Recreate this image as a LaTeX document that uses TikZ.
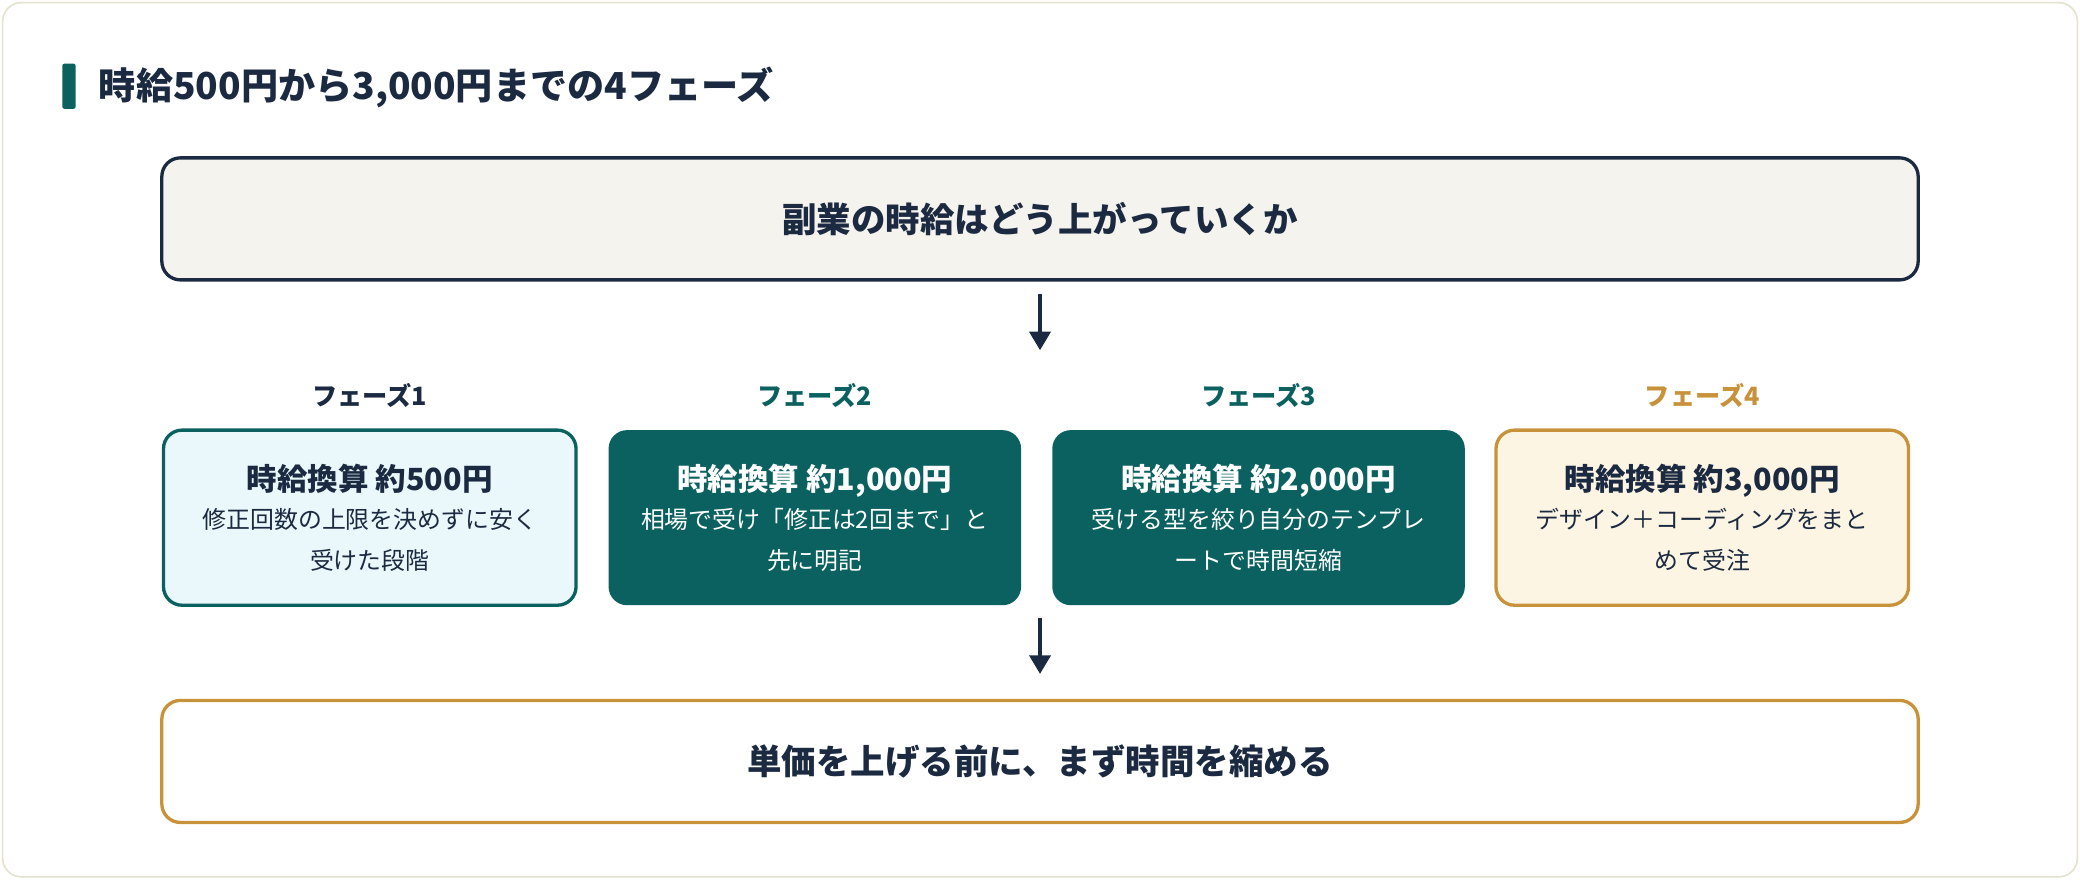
\documentclass[tikz,border=0pt]{standalone}
\usepackage{fontspec}
\setmainfont{Noto Sans CJK JP}
\usetikzlibrary{positioning,arrows.meta}
\definecolor{navy}{HTML}{1B2A41}
\definecolor{teal}{HTML}{0B6160}
\definecolor{gold}{HTML}{C8923A}
\definecolor{frame}{HTML}{E4E1CF}
\definecolor{paper}{HTML}{F5F3EE}
\definecolor{ice}{HTML}{EAF8FC}
\definecolor{cream}{HTML}{FDF5E4}
\tikzset{
  box/.style={draw, rounded corners=14, line width=2.5, minimum width=1324, minimum height=92, font=\fontsize{26}{30}\selectfont\bfseries, text=navy},
  phase/.style={rounded corners=14, line width=2.5, minimum width=311, minimum height=132, align=center, anchor=north west, font=\fontsize{18}{31}\selectfont},
  tag/.style={font=\fontsize{19}{22}\selectfont\bfseries, anchor=south},
  down/.style={-{Triangle[length=14,width=16]}, line width=2.5, draw=navy},
}
\newcommand{\phasetext}[2]{{\fontsize{23}{30}\selectfont\bfseries #1}\\[-2pt]#2}

\begin{document}
\begin{tikzpicture}[x=1pt,y=-1pt]
\useasboundingbox (0,0) rectangle (1568,663);
% frame
\draw [frame, fill=white, rounded corners=14, line width=1.2] (2,2) rectangle (1566,661);
% heading
\fill [teal, rounded corners=1.5] (47,48) rectangle (57,82);
\node (heading) [anchor=west, text=navy, font=\fontsize{28}{32}\selectfont\bfseries] at (71,66) {時給500円から3,000円までの4フェーズ};

% question
\node (question) [box, draw=navy, fill=paper] at (784,165) {副業の時給はどう上がっていくか};
\coordinate (qa) at (784,222);
\coordinate (qb) at (784,264);
\draw [down] (qa) -- (qb);

% phases
\node (p1) [phase, draw=teal, fill=ice, text=navy] at (122,323) {\phasetext{時給換算 約500円}{修正回数の上限を決めずに安く\\受けた段階}};
\node (p2) [phase, fill=teal, text=white, right=22 of p1.north east, anchor=north west] {\phasetext{時給換算 約1,000円}{相場で受け「修正は2回まで」と\\先に明記}};
\node (p3) [phase, fill=teal, text=white, right=21 of p2.north east, anchor=north west] {\phasetext{時給換算 約2,000円}{受ける型を絞り自分のテンプレ\\ートで時間短縮}};
\node (p4) [phase, draw=gold, fill=cream, text=navy, right=21 of p3.north east, anchor=north west] {\phasetext{時給換算 約3,000円}{デザイン＋コーディングをまと\\めて受注}};
\node (t1) [tag, text=navy] at ([yshift=12pt]p1.north) {フェーズ1};
\node (t2) [tag, text=teal] at ([yshift=12pt]p2.north) {フェーズ2};
\node (t3) [tag, text=teal] at ([yshift=12pt]p3.north) {フェーズ3};
\node (t4) [tag, text=gold] at ([yshift=12pt]p4.north) {フェーズ4};

\coordinate (pa) at (784,466);
\coordinate (pb) at (784,508);
\draw [down] (pa) -- (pb);

% conclusion
\node (lesson) [box, draw=gold, fill=white] at (784,574) {単価を上げる前に、まず時間を縮める};
\end{tikzpicture}
\end{document}
